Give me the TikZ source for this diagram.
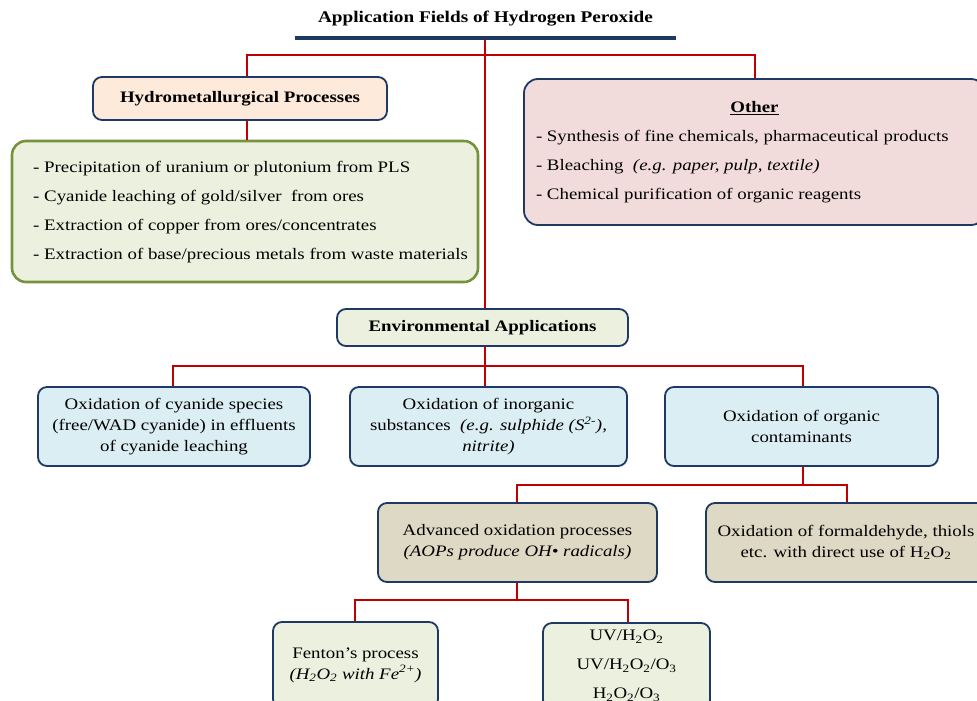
\documentclass[tikz,border=0pt]{standalone}
\usepackage{fontspec}
\setmainfont{Liberation Serif}[FakeStretch=1.18]
\definecolor{navy}{HTML}{1F3864}
\definecolor{conred}{HTML}{C00000}
\definecolor{peach}{HTML}{FDEADA}
\definecolor{lgreen}{HTML}{EBF1DE}
\definecolor{olive}{HTML}{76923C}
\definecolor{pinkish}{HTML}{F2DCDB}
\definecolor{lblue}{HTML}{DBEEF4}
\definecolor{tan}{HTML}{DDD9C4}
\tikzset{
  box/.style={draw=navy, line width=1.8pt, rounded corners=9pt, inner sep=0pt, align=center,
    font=\fontsize{16}{21}\selectfont},
  conn/.style={draw=conred, line width=2.6pt},
  titleline/.style={draw=navy, line width=3.6pt}
}
\begin{document}
\begin{tikzpicture}[x=1pt,y=-1pt]
\useasboundingbox (0,0) rectangle (977,701);
\clip (0,0) rectangle (977,701);
\fill[white] (0,0) rectangle (977,701);

% title
\node[font=\bfseries\fontsize{16.3}{20}\selectfont] (title) at (485.5,19) {Application Fields of Hydrogen Peroxide};
\coordinate (tlL) at (295,38);
\coordinate (tlR) at (676,38);
\coordinate (tlM) at (485,38);

% boxes
\node[box, fill=peach, minimum width=294, minimum height=43, font=\bfseries\fontsize{16}{20}\selectfont] (hydro) at (240,98.5) {Hydrometallurgical Processes};
\node[box, draw=olive, line width=2.6pt, rounded corners=14pt, fill=lgreen, minimum width=466, minimum height=141] (hydrolist) at (245,211.5) {};
\node[anchor=west, inner sep=0pt, align=left, font=\fontsize{16}{29}\selectfont] (hydrotext) at (33,212.5)
  {- Precipitation of uranium or plutonium from PLS\\
   - Cyanide leaching of gold/silver~ from ores\\
   - Extraction of copper from ores/concentrates\\
   - Extraction of base/precious metals from waste materials};
\node[box, fill=pinkish, minimum width=461, minimum height=146, text width=437, inner xsep=12, inner ysep=0, align=none,
  rounded corners=14pt, font=\fontsize{16}{29}\selectfont] (other) at (754.5,152)
  {\centering\textbf{\underline{Other}}\par
   \raggedright - Synthesis of fine chemicals, pharmaceutical products\par
   - Bleaching~ \textit{(e.g. paper, pulp, textile)}\par
   - Chemical purification of organic reagents\par};
\node[box, fill=lgreen, minimum width=291, minimum height=37, font=\bfseries\fontsize{16}{20}\selectfont] (env) at (482.5,327.5) {Environmental Applications};
\node[box, fill=lblue, minimum width=272, minimum height=79] (cyan) at (174,426.5)
  {Oxidation of cyanide species\\(free/WAD cyanide) in effluents\\of cyanide leaching};
\node[box, fill=lblue, minimum width=277, minimum height=79] (inorg) at (488.5,426.5)
  {Oxidation of inorganic\\substances~ \textit{(e.g. sulphide (S\textsuperscript{2-}),}\\\textit{nitrite)}};
\node[box, fill=lblue, minimum width=273, minimum height=79] (org) at (801.5,426.5)
  {Oxidation of organic\\contaminants};
\node[box, fill=tan, minimum width=279, minimum height=79] (aop) at (517.5,542.5)
  {Advanced oxidation processes\\\textit{(AOPs produce OH\textbullet\ radicals)}};
\node[box, fill=tan, minimum width=280, minimum height=79] (form) at (846,542.5)
  {Oxidation of formaldehyde, thiols\\etc. with direct use of H\textsubscript{2}O\textsubscript{2}};
\node[box, fill=lgreen, minimum width=165, minimum height=86] (fenton) at (355.5,665)
  {Fenton’s process\\\textit{(H\textsubscript{2}O\textsubscript{2} with Fe\textsuperscript{2+})}};
\node[box, fill=lgreen, minimum width=167, minimum height=86, font=\fontsize{16}{29}\selectfont] (uv) at (626.5,666)
  {UV/H\textsubscript{2}O\textsubscript{2}\\UV/H\textsubscript{2}O\textsubscript{2}/O\textsubscript{3}\\H\textsubscript{2}O\textsubscript{2}/O\textsubscript{3}};

% connector junctions
\coordinate (hx) at (247,55);
\coordinate (ox) at (755,55);
\coordinate (e1) at (173,366);
\coordinate (e2) at (485,366);
\coordinate (e3) at (803,366);
\coordinate (a1) at (517,485);
\coordinate (f1) at (847,485);
\coordinate (o1) at (803,485);
\coordinate (a2) at (517,600);
\coordinate (fn) at (355,600);
\coordinate (u1) at (628,600);

% connectors
\draw[conn] (tlM) -- (tlM |- env.north);
\draw[conn] (hx |- hydro.north) -- (hx) -- (ox) -- (ox |- other.north);
\draw[conn] (hx |- hydro.south) -- (hx |- hydrolist.north);
\draw[conn] (e2 |- env.south) -- (e2 |- inorg.north);
\draw[conn] (e1 |- cyan.north) -- (e1) -- (e3) -- (e3 |- org.north);
\draw[conn] (o1 |- org.south) -- (o1);
\draw[conn] (a1 |- aop.north) -- (a1) -- (f1) -- (f1 |- form.north);
\draw[conn] (a2 |- aop.south) -- (a2);
\draw[conn] (fn |- fenton.north) -- (fn) -- (u1) -- (u1 |- uv.north);
\draw[titleline] (tlL) -- (tlR);
\end{tikzpicture}
\end{document}
